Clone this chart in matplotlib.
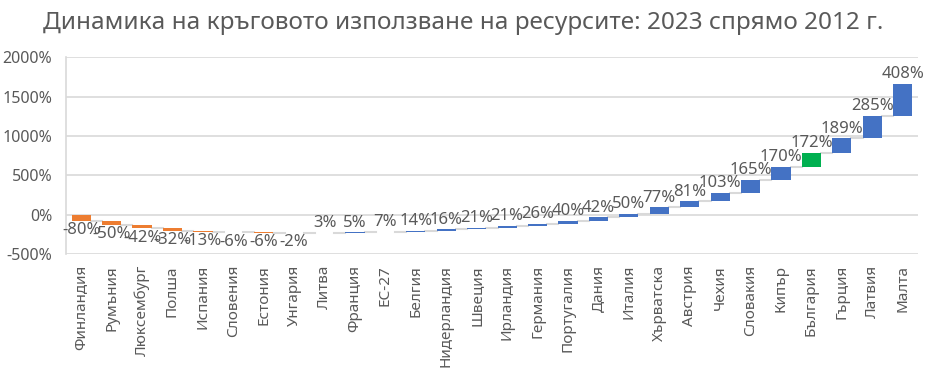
import numpy as np
import matplotlib
matplotlib.use("Agg")
import matplotlib.pyplot as plt

plt.rcParams['font.family'] = ['Noto Sans', 'DejaVu Sans']

countries = ['Финландия', 'Румъния', 'Люксембург', 'Полша', 'Испания', 'Словения',
             'Естония', 'Унгария', 'Литва', 'Франция', 'ЕС-27', 'Белгия', 'Нидерландия',
             'Швеция', 'Ирландия', 'Германия', 'Португалия', 'Дания', 'Италия',
             'Хърватска', 'Австрия', 'Чехия', 'Словакия', 'Кипър', 'България',
             'Гърция', 'Латвия', 'Малта']
changes = [-80, -50, -42, -32, -13, -6, -6, -2, 3, 5, 7, 14, 16, 21, 21, 26, 40,
           42, 50, 77, 81, 103, 165, 170, 172, 189, 285, 408]
highlight = 'България'

BLUE = '#4472C4'
ORANGE = '#ED7D31'
GREEN = '#00B050'
GRID = '#D9D9D9'
TEXT = '#595959'

vals = np.array(changes, dtype=float)
ends = np.cumsum(vals)
starts = ends - vals
x = np.arange(len(countries))

colors = []
for name, v in zip(countries, vals):
    if name == highlight:
        colors.append(GREEN)
    elif v < 0:
        colors.append(ORANGE)
    else:
        colors.append(BLUE)

fig = plt.figure(figsize=(9.27, 3.76), dpi=100)
ax = fig.add_axes([0.0712, 0.3245, 0.919, 0.5235])

w = 0.63
ax.bar(x, vals, bottom=starts, width=w, color=colors, zorder=3)

# connector lines between bars
for i in range(len(x) - 1):
    ax.plot([x[i] + w / 2, x[i + 1] - w / 2], [ends[i], ends[i]],
            color=GRID, lw=1.5, zorder=2)

for i, v in enumerate(vals):
    if v >= 0:
        ax.text(x[i], ends[i] + 20, f'{int(v)}%', ha='center', va='bottom',
                fontsize=12, color=TEXT, zorder=4)
    else:
        ax.text(x[i], ends[i] - 20, f'{int(v)}%', ha='center', va='top',
                fontsize=12, color=TEXT, zorder=4)

ax.set_xlim(-0.5, len(x) - 0.5)
ax.set_ylim(-500, 2000)
ax.set_yticks(np.arange(-500, 2001, 500))
ax.set_yticklabels([f'{t}%' for t in range(-500, 2001, 500)])
ax.yaxis.grid(True, color=GRID, lw=1.2, zorder=0)
ax.set_axisbelow(True)

ax.set_xticks(x)
ax.set_xticklabels(countries, rotation=90)
ax.tick_params(axis='both', length=0, colors=TEXT)
ax.tick_params(axis='x', labelsize=11, pad=8)
ax.tick_params(axis='y', labelsize=11.5, pad=10)

for s in ['top', 'right', 'bottom']:
    ax.spines[s].set_visible(False)
ax.spines['left'].set_color(GRID)
ax.spines['left'].set_linewidth(1.2)

fig.suptitle('Динамика на кръговото използване на ресурсите: 2023 спрямо 2012 г.',
             fontsize=17.5, color=TEXT, y=0.97)

fig.savefig('out.png', dpi=100)
